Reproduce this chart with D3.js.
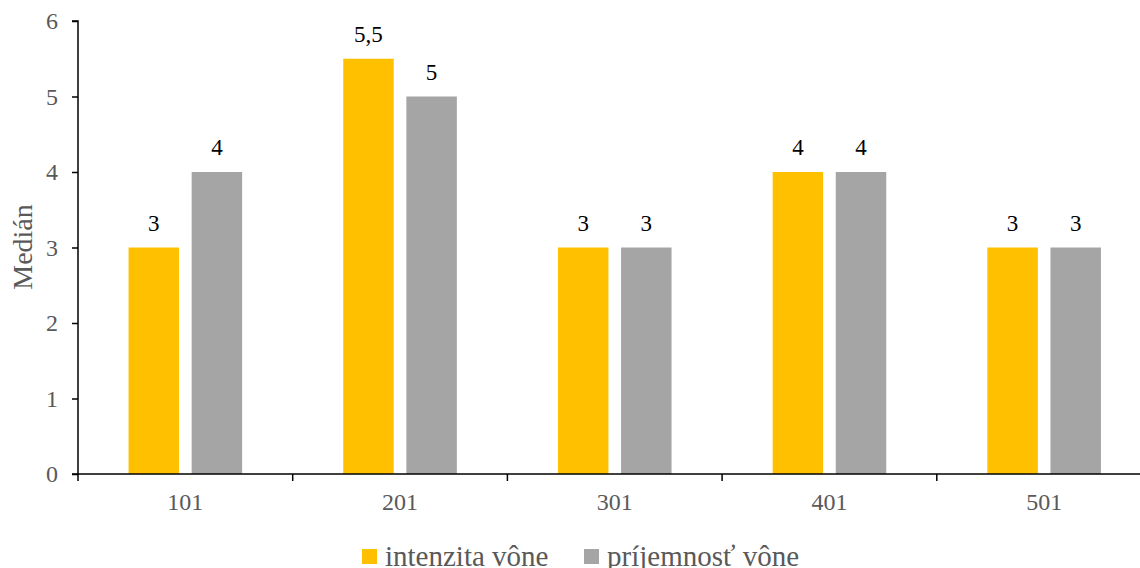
<!DOCTYPE html>
<html>
<head>
<meta charset="utf-8">
<script src="https://cdn.jsdelivr.net/npm/d3@7"></script>
<style>
  html, body { margin: 0; padding: 0; background: #fff; }
  svg { display: block; }
  svg text { font-family: "Liberation Serif", "Times New Roman", serif; }
</style>
</head>
<body>
<svg id="chart" width="1140" height="568"></svg>
<script>
// Samples and median scores
const categories = ["101", "201", "301", "401", "501"];
const seriesNames = ["intenzita vône", "príjemnosť vône"];
const intenzita = [3, 5.5, 3, 4, 3];
const prijemnost = [4, 5, 3, 4, 3];
const yTicks = [0, 1, 2, 3, 4, 5, 6];
const colors = ["#FFC000", "#A5A5A5"];

const seriesValues = [intenzita, prijemnost];
const rows = categories.map((c, i) => ({
  cat: c,
  vals: seriesNames.map((s, j) => ({ key: s, value: seriesValues[j][i] }))
}));

const serif = "Liberation Serif, Times New Roman, serif";
const svg = d3.select("#chart");
const plotLeft = 78, plotRight = 1151.5, plotTop = 21, plotBottom = 474;

const x = d3.scaleBand().domain(categories).range([plotLeft, plotRight]).padding(0);
const bw = x.bandwidth();
const x1 = d3.scaleBand().domain(seriesNames)
  .range([bw / 2 - 56.8, bw / 2 + 56.8]).paddingInner(0.2).paddingOuter(0);
const y = d3.scaleLinear().domain([0, 6]).range([plotBottom, plotTop]);

const fmt = v => String(v).replace(".", ",");

// bars
const groups = svg.append("g").selectAll("g").data(rows).join("g")
  .attr("transform", d => `translate(${x(d.cat)},0)`);

groups.selectAll("rect").data(d => d.vals).join("rect")
  .attr("x", d => x1(d.key))
  .attr("y", d => y(d.value))
  .attr("width", x1.bandwidth())
  .attr("height", d => y(0) - y(d.value))
  .attr("fill", (d, i) => colors[i]);

// value labels
groups.selectAll("text.val").data(d => d.vals).join("text")
  .attr("class", "val")
  .attr("x", d => x1(d.key) + x1.bandwidth() / 2)
  .attr("y", d => y(d.value) - 17)
  .attr("text-anchor", "middle")
  .attr("font-family", serif)
  .attr("font-size", 23)
  .attr("fill", "#000")
  .text(d => fmt(d.value));

// y axis
const yAxis = d3.axisLeft(y).tickValues(yTicks).tickSize(6).tickPadding(14).tickFormat(d3.format("d"));
const gy = svg.append("g").attr("transform", `translate(${plotLeft},0)`).call(yAxis)
  .attr("font-family", serif);
gy.select(".domain").attr("stroke", "#000").attr("stroke-width", 1.5).attr("d", `M-6,${plotTop}H0V${plotBottom}H-6`);
gy.selectAll(".tick line").attr("stroke", "#000").attr("stroke-width", 1.5);
gy.selectAll(".tick text").attr("font-family", serif)
  .attr("font-size", 24).attr("fill", "#595959").attr("dy", "0.33em");

// x axis: ticks on band boundaries, labels at band centres
const gx = svg.append("g").attr("transform", `translate(0,${plotBottom})`);
gx.append("line").attr("x1", plotLeft).attr("x2", plotRight).attr("y1", 0).attr("y2", 0)
  .attr("stroke", "#000").attr("stroke-width", 1.5);
const bounds = categories.map(c => x(c)).concat([plotRight]);
gx.selectAll("line.tk").data(bounds).join("line").attr("class", "tk")
  .attr("x1", d => d).attr("x2", d => d).attr("y1", 0).attr("y2", 7)
  .attr("stroke", "#000").attr("stroke-width", 1.5);
gx.selectAll("text").data(categories).join("text")
  .attr("x", d => x(d) + bw / 2)
  .attr("y", 36)
  .attr("text-anchor", "middle")
  .attr("font-family", serif)
  .attr("font-size", 24)
  .attr("fill", "#595959")
  .text(d => d);

// y axis title
svg.append("text")
  .attr("transform", `translate(32,247) rotate(-90)`)
  .attr("text-anchor", "middle")
  .attr("font-family", serif)
  .attr("font-size", 28)
  .attr("fill", "#595959")
  .text("Medián");

// legend
const legendX = [362, 584];
const lg = svg.append("g").selectAll("g").data(seriesNames).join("g")
  .attr("transform", (d, i) => `translate(${legendX[i]},0)`);
lg.append("rect").attr("x", 0).attr("y", 549).attr("width", 15).attr("height", 15)
  .attr("fill", (d, i) => colors[i]);
lg.append("text").attr("x", 23).attr("y", 566)
  .attr("font-family", serif)
  .attr("font-size", 29).attr("fill", "#595959").text(d => d);
</script>
</body>
</html>
